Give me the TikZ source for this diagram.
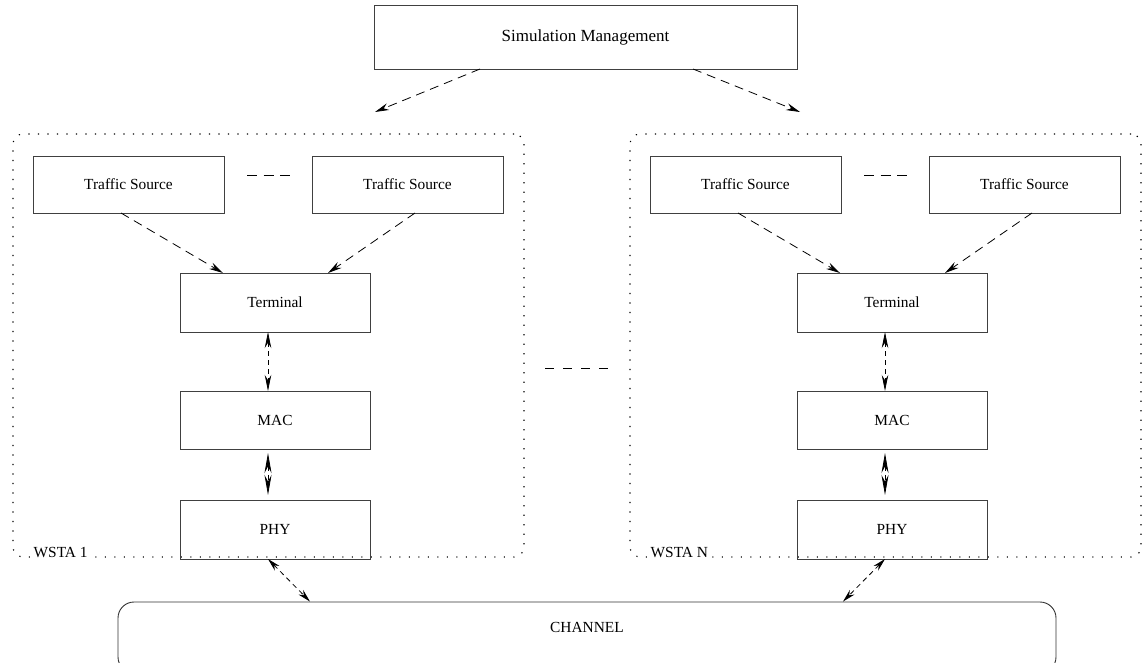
\documentclass[tikz,border=0pt]{standalone}
\usepackage{fontspec}
\setmainfont{Liberation Serif}
\usetikzlibrary{arrows.meta,positioning}
\tikzset{
    layer-box/.style = {draw=black!75, line width=0.9pt, rectangle, minimum width=190pt, minimum height=58pt, inner sep=0pt, outer sep=0pt, font=\fontsize{15.4}{18}\selectfont},
    station-frame/.style = {draw=black, line width=1.1pt, dash pattern=on 1.2pt off 8.3pt, rounded corners=10pt, inner sep=0pt, outer sep=0pt, minimum width=511pt, minimum height=423pt},
    frame-label/.style = {fill=white, inner sep=1.5pt, font=\fontsize{15.4}{18}\selectfont},
    flow-arrow/.style = {draw, line width=0.8pt, dash pattern=on 9pt off 6pt, -{Stealth[length=14pt,width=7pt]}},
    link-arrow/.style = {draw, line width=0.8pt, dash pattern=on 5pt off 4pt, {Stealth[length=16pt,width=6.5pt]}-{Stealth[length=16pt,width=6.5pt]}},
}

\begin{document}
\begin{tikzpicture}[x=1pt, y=-1pt]
\useasboundingbox (0,0) rectangle (1143,663);

\node[layer-box, minimum width=423pt, minimum height=64pt, font=\fontsize{17}{20}\selectfont] (mgmt) at (585.5,37) {Simulation Management};

% station 1
\node[station-frame] (frame1) at (268.5,345.5) {};
\node[frame-label, anchor=base west] (wsta1) at ([xshift=19pt]frame1.south west) {WSTA 1};
\node[layer-box, minimum width=191pt, minimum height=57pt] (src1a) at (128.5,184.5) {Traffic Source};
\node[layer-box, minimum width=191pt, minimum height=57pt] (src1b) at (407.5,184.5) {Traffic Source};
\node[layer-box, minimum height=59pt] (term1) at (275,302.5) {Terminal};
\node[layer-box, below=59pt of term1] (mac1) {MAC};
\node[layer-box, minimum height=59pt, below=51pt of mac1] (phy1) {PHY};

% station N
\node[station-frame] (frame2) at (885.5,345.5) {};
\node[frame-label, anchor=base west] (wstaN) at ([xshift=19pt]frame2.south west) {WSTA N};
\node[layer-box, minimum width=191pt, minimum height=57pt] (src2a) at (745.5,184.5) {Traffic Source};
\node[layer-box, minimum width=191pt, minimum height=57pt] (src2b) at (1024.5,184.5) {Traffic Source};
\node[layer-box, minimum height=59pt] (term2) at (892,302.5) {Terminal};
\node[layer-box, below=59pt of term2] (mac2) {MAC};
\node[layer-box, minimum height=59pt, below=51pt of mac2] (phy2) {PHY};

% channel
\node[draw=black!80, line width=0.9pt, rounded corners=16pt, minimum width=938pt, minimum height=71pt, inner sep=0pt] (channel) at (587,637.5) {};
\node[font=\fontsize{15.4}{18}\selectfont] (channel-text) at ([yshift=10.5pt]channel.center) {CHANNEL};

% separators
\draw[line width=0.9pt, dash pattern=on 10pt off 6.5pt] ([xshift=23pt,yshift=9.5pt]src1a.east) -- ([xshift=-22pt,yshift=9.5pt]src1b.west);
\draw[line width=0.9pt, dash pattern=on 10pt off 6.5pt] ([xshift=23pt,yshift=9.5pt]src2a.east) -- ([xshift=-22pt,yshift=9.5pt]src2b.west);
\draw[line width=0.9pt, dash pattern=on 9pt off 9pt] ([xshift=21pt,yshift=-22.5pt]frame1.east) -- ([xshift=-22pt,yshift=-22.5pt]frame2.west);

% management arrows
\coordinate (in1) at (375,112);
\coordinate (in2) at (800,112);
\draw[flow-arrow] ([xshift=-105.5pt]mgmt.south) -- (in1);
\draw[flow-arrow] ([xshift=107.5pt]mgmt.south) -- (in2);

% station arrows
\draw[flow-arrow] ([xshift=-7.5pt]src1a.south) -- ([xshift=-52pt]term1.north);
\draw[flow-arrow] ([xshift=7.5pt]src1b.south) -- ([xshift=53pt]term1.north);
\draw[link-arrow] ([xshift=-7pt]term1.south) -- ([xshift=-7pt]mac1.north);
\draw[link-arrow, {Stealth[length=20pt,width=7pt]}-{Stealth[length=20pt,width=7pt]}] ([xshift=-7pt,yshift=-4pt]mac1.south) -- ([xshift=-7pt,yshift=5pt]phy1.north);
\draw[link-arrow, {Stealth[length=13pt,width=6.5pt]}-{Stealth[length=13pt,width=6.5pt]}] ([xshift=-7pt]phy1.south) -- ([xshift=-277pt]channel.north);

\draw[flow-arrow] ([xshift=-7.5pt]src2a.south) -- ([xshift=-52pt]term2.north);
\draw[flow-arrow] ([xshift=7.5pt]src2b.south) -- ([xshift=53pt]term2.north);
\draw[link-arrow] ([xshift=-7pt]term2.south) -- ([xshift=-7pt]mac2.north);
\draw[link-arrow, {Stealth[length=20pt,width=7pt]}-{Stealth[length=20pt,width=7pt]}] ([xshift=-7pt,yshift=-4pt]mac2.south) -- ([xshift=-7pt,yshift=5pt]phy2.north);
\draw[link-arrow, {Stealth[length=13pt,width=6.5pt]}-{Stealth[length=13pt,width=6.5pt]}] ([xshift=-7pt]phy2.south) -- ([xshift=256pt]channel.north);
\end{tikzpicture}
\end{document}
